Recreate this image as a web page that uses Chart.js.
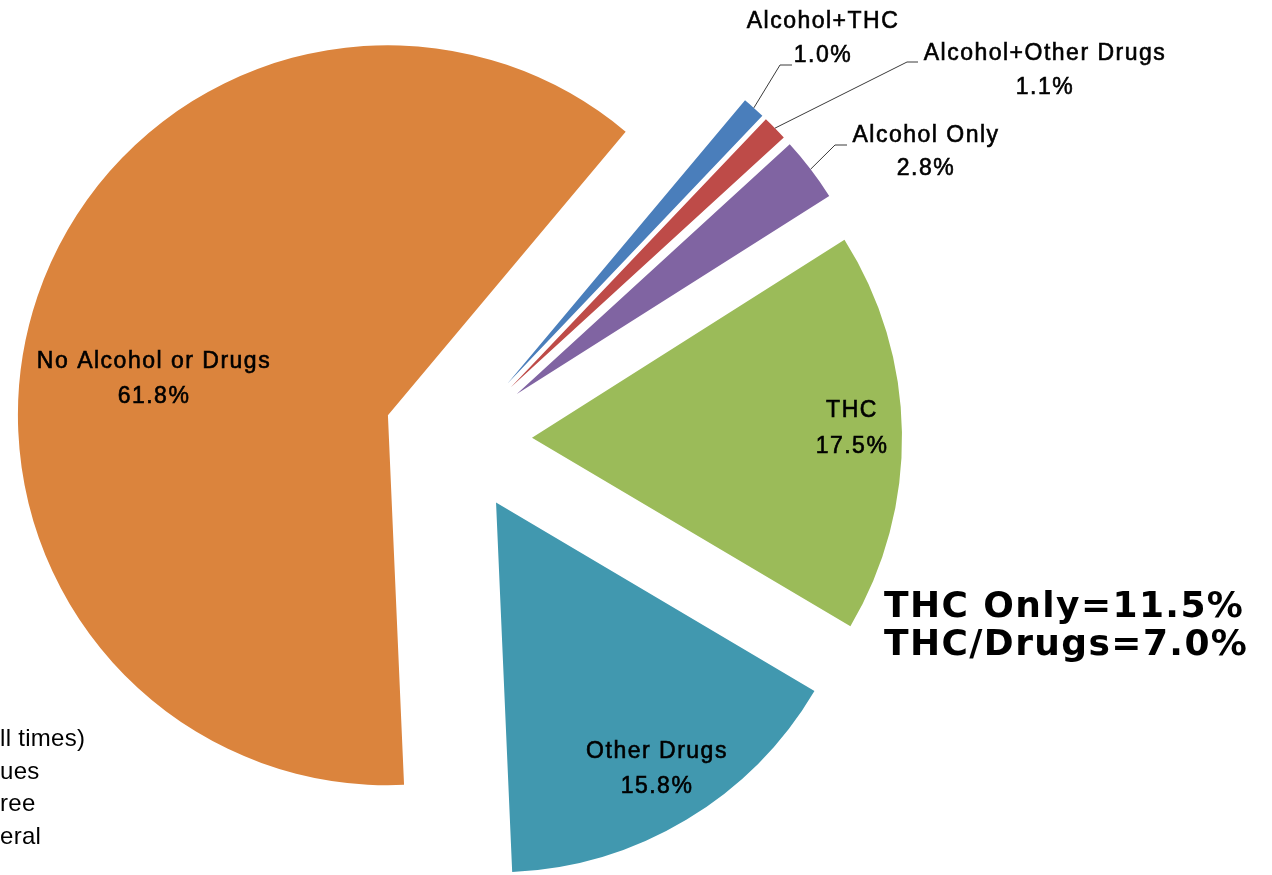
<!DOCTYPE html>
<html>
<head>
<meta charset="utf-8">
<script src="https://cdn.jsdelivr.net/npm/chart.js@4/dist/chart.umd.min.js"></script>
<style>
html,body{margin:0;padding:0;background:#ffffff;overflow:hidden}
#wrap{position:relative;width:1272px;height:875px}
</style>
</head>
<body>
<div id="wrap"><canvas id="c" width="1272" height="875"></canvas></div>
<script>
// ---- data ----
const categories = ['No Alcohol or Drugs', 'Alcohol+THC', 'Alcohol+Other Drugs', 'Alcohol Only', 'THC', 'Other Drugs'];
const shares = [61.8, 1.0, 1.1, 2.8, 17.5, 15.8];
const noteLines = ['THC Only=11.5%', 'THC/Drugs=7.0%'];
const clippedNoteLines = ['ll times)', 'ues', 'ree', 'eral'];

// ---- styles / layout ----
const sliceColors = ['#DB843D', '#4A7EBB', '#BE4B48', '#8064A2', '#9BBB59', '#4198AF'];
const EXPLODE = 74;
// label anchor (centre of first text line), line gap, optional leader elbow points
const labelLayout = [
  { x: 153, y: 362, gap: 35 },
  { x: 822, y: 22, gap: 34, leader: [[780, 65], [792, 65]] },
  { x: 1044, y: 54, gap: 34, leader: [[907, 62], [918, 62]] },
  { x: 925, y: 136, gap: 33, leader: [[835, 145], [847, 145]] },
  { x: 851, y: 411, gap: 36 },
  { x: 656, y: 752, gap: 35 }
];

// Arc element whose offset is a pure translation along the slice bisector
class ExplodedArc extends Chart.ArcElement {
  static id = 'explodedArc';
  draw(ctx) {
    const o = this.options;
    const t = o.offset || 0;
    const mid = (this.startAngle + this.endAngle) / 2;
    ctx.save();
    ctx.translate(Math.cos(mid) * t, Math.sin(mid) * t);
    this.options = Object.assign({}, o, { offset: 0 });
    super.draw(ctx);
    this.options = o;
    ctx.restore();
  }
}
class ExplodedPie extends Chart.PieController {
  static id = 'explodedPie';
  static defaults = { dataElementType: 'explodedArc' };
}
Chart.register(ExplodedArc, ExplodedPie);

function heavyText(ctx, s, x, y) {
  ctx.fillText(s, x, y);
  ctx.strokeText(s, x, y);
}

const labelPlugin = {
  id: 'sliceLabels',
  afterDatasetsDraw(chart) {
    const ctx = chart.ctx;
    const meta = chart.getDatasetMeta(0);
    ctx.save();
    meta.data.forEach((arc, i) => {
      const lay = labelLayout[i];
      const mid = (arc.startAngle + arc.endAngle) / 2;
      const t = arc.options.offset || 0;
      if (lay.leader) {
        const r = arc.outerRadius + t;
        ctx.beginPath();
        ctx.moveTo(arc.x + Math.cos(mid) * r, arc.y + Math.sin(mid) * r);
        lay.leader.forEach(p => ctx.lineTo(p[0], p[1]));
        ctx.strokeStyle = '#3a3a3a';
        ctx.lineWidth = 1;
        ctx.stroke();
      }
      ctx.fillStyle = '#000000';
      ctx.strokeStyle = '#000000';
      ctx.lineWidth = 0.6;
      ctx.font = '23px "Liberation Sans", Arial, sans-serif';
      ctx.letterSpacing = '1.5px';
      ctx.textAlign = 'center';
      ctx.textBaseline = 'middle';
      heavyText(ctx, categories[i], lay.x + 1, lay.y);
      heavyText(ctx, shares[i].toFixed(1) + '%', lay.x + 1, lay.y + lay.gap);
    });
    // summary note
    ctx.letterSpacing = '1.4px';
    ctx.textAlign = 'left';
    ctx.textBaseline = 'alphabetic';
    ctx.font = 'bold 36px "DejaVu Sans", Verdana, sans-serif';
    ctx.fillText(noteLines[0], 884, 617);
    ctx.fillText(noteLines[1], 884, 655);
    // text of a box cut by the left border
    ctx.letterSpacing = '0.3px';
    ctx.font = '24px "Liberation Sans", Arial, sans-serif';
    const baselines = [746, 779, 811, 844];
    clippedNoteLines.forEach((s, k) => ctx.fillText(s, 0, baselines[k]));
    ctx.restore();
  }
};

new Chart(document.getElementById('c'), {
  type: 'explodedPie',
  data: {
    labels: categories,
    datasets: [{
      data: shares,
      backgroundColor: sliceColors,
      borderWidth: 0,
      offset: EXPLODE,
      rotation: 177.5,
      radius: 370
    }]
  },
  options: {
    responsive: false,
    animation: false,
    events: [],
    devicePixelRatio: 1,
    layout: { padding: { left: 0, right: 356, top: 3, bottom: 0 } },
    plugins: { legend: { display: false }, tooltip: { enabled: false } }
  },
  plugins: [labelPlugin]
});
</script>
</body>
</html>
